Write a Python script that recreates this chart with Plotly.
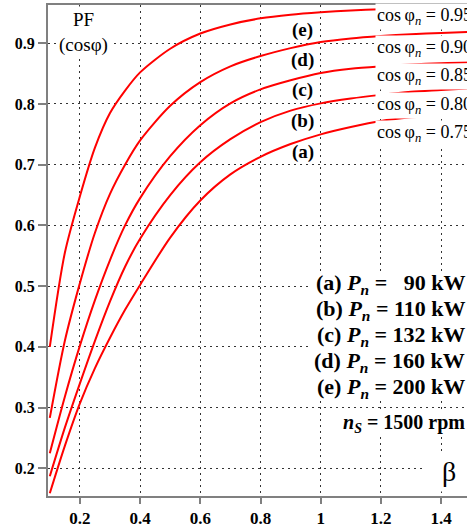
import plotly.graph_objects as go

# Load factor beta
beta = [0.1, 0.15, 0.2, 0.25, 0.3, 0.35, 0.4, 0.5, 0.6, 0.7, 0.8, 0.9, 1.0, 1.1, 1.2, 1.3, 1.4, 1.5]

# Power factor curves
pf_a = [0.159, 0.237, 0.307, 0.365, 0.415, 0.461, 0.502, 0.580, 0.641, 0.684, 0.713, 0.734, 0.750, 0.762, 0.772, 0.778, 0.782, 0.785]
pf_b = [0.187, 0.267, 0.340, 0.410, 0.475, 0.532, 0.578, 0.650, 0.704, 0.742, 0.770, 0.789, 0.801, 0.809, 0.815, 0.820, 0.823, 0.826]
pf_c = [0.225, 0.318, 0.402, 0.477, 0.543, 0.600, 0.645, 0.714, 0.765, 0.801, 0.824, 0.839, 0.851, 0.858, 0.862, 0.865, 0.867, 0.869]
pf_d = [0.283, 0.410, 0.505, 0.588, 0.652, 0.700, 0.740, 0.797, 0.836, 0.862, 0.879, 0.892, 0.902, 0.908, 0.912, 0.915, 0.917, 0.919]
pf_e = [0.400, 0.555, 0.648, 0.728, 0.785, 0.822, 0.852, 0.891, 0.916, 0.931, 0.941, 0.947, 0.951, 0.954, 0.956, 0.958, 0.959, 0.960]

curve_labels = ["(a)", "(b)", "(c)", "(d)", "(e)"]
nominal_pf = ["0.75", "0.80", "0.85", "0.90", "0.95"]
rated_power = ["\u00a0\u00a090", "110", "132", "160", "200"]

x_ticks = [0.2, 0.4, 0.6, 0.8, 1.0, 1.2, 1.4]
x_tick_text = ["0.2", "0.4", "0.6", "0.8", "1", "1.2", "1.4"]
y_ticks = [0.2, 0.3, 0.4, 0.5, 0.6, 0.7, 0.8, 0.9]
y_tick_text = ["0.2", "0.3", "0.4", "0.5", "0.6", "0.7", "0.8", "0.9"]

SERIF = "Liberation Serif, Times New Roman, serif"

# pixel helpers for the plot area (left 48, top 5, width 419, height 491)
def px_x(p):
    return (p - 48) / 419.0

def px_y(p):
    return 1 - (p - 5) / 491.0

fig = go.Figure()
for ys in [pf_a, pf_b, pf_c, pf_d, pf_e]:
    fig.add_trace(go.Scatter(x=beta, y=ys, mode="lines",
                             line=dict(color="#ff0000", width=2, shape="spline", smoothing=0.8),
                             hoverinfo="skip"))

axis_common = dict(showline=True, linecolor="#808080", linewidth=2,
                   ticks="outside", tickcolor="#808080", tickwidth=1.5,
                   showgrid=True, gridcolor="#333333", gridwidth=1, griddash="2px,4px",
                   zeroline=False, automargin=False)

fig.update_xaxes(range=[0.094, 1.486], tickvals=x_ticks, ticktext=x_tick_text,
                 ticklen=6, mirror=True,
                 tickfont=dict(family=SERIF, size=17, color="black", weight="bold"),
                 **axis_common)
fig.update_yaxes(range=[0.1544, 0.963], tickvals=y_ticks, ticktext=y_tick_text,
                 ticklen=8,
                 tickfont=dict(family=SERIF, size=16, color="black", weight="bold"),
                 **axis_common)

# white backgrounds hiding the grid behind the legend texts
shapes = [
    dict(type="rect", xref="paper", yref="paper", x0=px_x(311), x1=1.0, y0=px_y(399), y1=px_y(272),
         fillcolor="white", line=dict(width=0), layer="above"),
    dict(type="rect", xref="paper", yref="paper", x0=px_x(338), x1=1.0, y0=px_y(434), y1=px_y(413),
         fillcolor="white", line=dict(width=0), layer="above"),
]

ann = []
# PF (cos phi) axis title
ann.append(dict(x=0.212, y=0.918, xref="x", yref="y", text="PF<br>(cosφ)", showarrow=False,
                font=dict(family=SERIF, size=19, color="black"), bgcolor="white", borderpad=2,
                align="center"))
# curve labels (a)...(e)
curve_label_y = [0.721, 0.772, 0.8234, 0.872, 0.9216]
for lab, yy in zip(curve_labels, curve_label_y):
    ann.append(dict(x=0.941, y=yy, xref="x", yref="y", text=lab, showarrow=False,
                    font=dict(family=SERIF, size=19, color="black", weight="bold")))
# nominal power factor labels
nom_y = [0.7514, 0.798, 0.8447, 0.891, 0.9435]
for val, yy in zip(nominal_pf, nom_y):
    ann.append(dict(x=1.18, y=yy, xref="x", yref="y", xanchor="left",
                    text="cos\u2009φ<sub><i>n</i></sub> = " + val, showarrow=False,
                    font=dict(family=SERIF, size=18, color="black"), bgcolor="white", borderpad=1))
# legend of rated powers
leg_y_px = [284, 310, 336, 362, 388]
for lab, p, ypx in zip(curve_labels, rated_power, leg_y_px):
    ann.append(dict(x=1.0, y=px_y(ypx), xref="paper", yref="paper", xanchor="right", yanchor="middle",
                    text=lab + " <i>P</i><sub><i>n</i></sub> = " + p + " kW", showarrow=False,
                    font=dict(family=SERIF, size=22, color="black", weight="bold")))
ann.append(dict(x=1.0, y=px_y(423), xref="paper", yref="paper", xanchor="right", yanchor="middle",
                text="<i>n</i><sub><i>S</i></sub> = 1500 rpm", showarrow=False,
                font=dict(family=SERIF, size=20, color="black", weight="bold")))
ann.append(dict(x=1.0, y=px_y(471), xref="paper", yref="paper", xanchor="right", yanchor="middle",
                text="\u2002β\u2009", showarrow=False,
                font=dict(family=SERIF, size=28, color="black"),
                bgcolor="white", borderpad=4))

fig.update_layout(width=467, height=526, margin=dict(l=48, r=0, t=5, b=30),
                  paper_bgcolor="white", plot_bgcolor="white", showlegend=False,
                  annotations=ann, shapes=shapes)

fig.write_html("out.html", config={"displayModeBar": False},
               post_script="document.body.style.margin='0';")
